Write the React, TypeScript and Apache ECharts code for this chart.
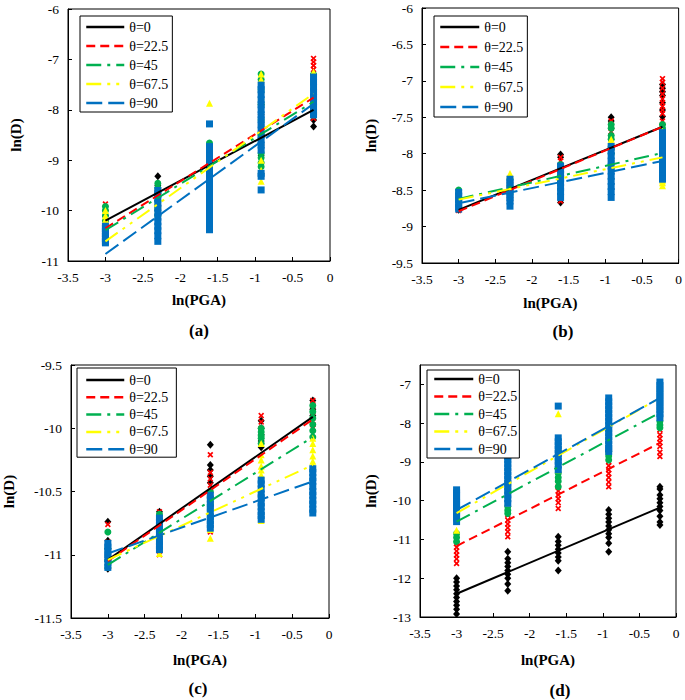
import React, { useEffect, useRef } from "react";
import * as echarts from "echarts";

// ---------- data ----------
const LN_PGA = [-3.0, -2.3, -1.61, -0.92, -0.22];
const FIT_X = [-3.0, -0.22];
const THETA_NAMES = ["θ=0", "θ=22.5", "θ=45", "θ=67.5", "θ=90"];
const PANEL_TAGS = ["(a)", "(b)", "(c)", "(d)"];
const X_NAME = "ln(PGA)";
const Y_NAME = "ln(D)";

// Panel (a)
const A_T0 = [
  [-10.0, -10.1, -10.2, -10.3, -10.4, -10.5],
  [-9.32, -9.5, -9.6, -9.7, -9.8, -9.9, -10.0],
  [-8.8, -8.9, -9.0, -9.1, -9.2, -9.3, -9.4],
  [-7.9, -8.1, -8.3, -8.5, -8.7, -8.9],
  [-7.5, -7.7, -7.9, -8.0, -8.1, -8.2, -8.33],
];
const A_T22 = [
  [-9.87, -9.95, -10.05, -10.15, -10.3, -10.45],
  [-9.56, -9.65, -9.75, -9.85, -9.95, -10.1],
  [-8.8, -8.95, -9.1, -9.25, -9.4, -9.6],
  [-7.6, -7.8, -8.0, -8.3, -8.6, -8.9, -9.1],
  [-6.98, -7.05, -7.12, -7.2, -7.4, -7.7, -8.0, -8.17],
];
const A_T45 = [
  [-9.92, -10.0, -10.1, -10.2, -10.3, -10.38],
  [-9.46, -9.55, -9.65, -9.8, -9.95, -10.1],
  [-8.66, -8.72, -8.8, -9.0, -9.2, -9.4, -9.6],
  [-7.29, -7.4, -7.6, -7.9, -8.2, -8.5, -8.86, -8.95, -9.05, -9.13],
  [-7.3, -7.45, -7.6, -7.8, -7.95, -8.1],
];
const A_T67 = [
  [-10.0, -10.1, -10.18, -10.3, -10.45, -10.6],
  [-9.8, -9.85, -9.9, -9.95, -10.0, -10.05],
  [-7.87, -9.0, -9.2, -9.4, -9.5, -9.6, -9.7, -9.8],
  [-7.29, -7.4, -7.6, -7.74, -7.8, -9.0, -9.2, -9.42],
  [-7.25, -7.3, -7.5, -7.7, -7.9, -8.05],
];
const A_T90 = [
  [-10.31, -10.36, -10.41, -10.46, -10.51, -10.56, -10.61, -10.64],
  [-9.6, -9.68, -9.77, -9.86, -9.95, -10.04, -10.13, -10.22, -10.31, -10.4, -10.5, -10.61],
  [-8.28, -8.73, -8.82, -8.91, -9.0, -9.1, -9.2, -9.3, -9.4, -9.5, -9.6, -9.7, -9.8, -9.9, -10.0, -10.1, -10.2, -10.3, -10.38],
  [-7.51, -7.6, -7.7, -7.8, -7.9, -8.0, -8.1, -8.2, -8.3, -8.4, -8.5, -8.6, -8.7, -8.8, -9.26, -9.32, -9.59],
  [-7.35, -7.45, -7.55, -7.65, -7.75, -7.85, -7.95, -8.05, -8.1],
];
const A_FIT_L = [-10.2, -10.35, -10.39, -10.61, -10.86];
const A_FIT_R = [-8.0, -7.76, -7.84, -7.68, -7.88];

// Panel (b)
const B_T0 = [
  [-8.6, -8.65, -8.7, -8.77],
  [-8.4, -8.5, -8.6, -8.65],
  [-8.01, -8.05, -8.2, -8.4, -8.55, -8.67],
  [-7.5, -7.55, -7.65, -7.8, -7.95, -8.1],
  [-7.05, -7.1, -7.15, -7.2, -7.3, -7.4, -7.49, -7.6],
];
const B_T22 = [
  [-8.6, -8.7, -8.78],
  [-8.45, -8.55, -8.65],
  [-8.05, -8.1, -8.3, -8.5, -8.65],
  [-7.55, -7.6, -7.65, -7.7, -7.75, -7.8],
  [-6.97, -7.02, -7.1, -7.18, -7.25, -7.3, -7.35, -7.4, -7.45, -7.55, -7.62],
];
const B_T45 = [
  [-8.5, -8.55, -8.6, -8.65],
  [-8.35, -8.45, -8.55],
  [-8.15, -8.2, -8.3, -8.4],
  [-7.6, -7.65, -7.75, -7.8, -7.9, -8.0],
  [-7.6, -7.65, -7.7, -7.8, -7.9],
];
const B_T67 = [
  [-8.55, -8.6, -8.65],
  [-8.27, -8.3, -8.4],
  [-8.2, -8.3, -8.4],
  [-7.8, -7.85, -7.9, -8.1, -8.3],
  [-7.69, -7.75, -8.37, -8.4, -8.44],
];
const B_T90 = [
  [-8.53, -8.58, -8.63, -8.68, -8.73, -8.76],
  [-8.35, -8.4, -8.45, -8.5, -8.55, -8.6, -8.65, -8.72],
  [-8.17, -8.22, -8.28, -8.34, -8.4, -8.46, -8.52, -8.6],
  [-7.9, -7.96, -8.03, -8.1, -8.17, -8.24, -8.31, -8.38, -8.45, -8.52, -8.6],
  [-7.71, -7.77, -7.84, -7.9, -7.97, -8.04, -8.1, -8.17, -8.23, -8.3, -8.35],
];
const B_FIT_L = [-8.77, -8.79, -8.62, -8.63, -8.68];
const B_FIT_R = [-7.63, -7.63, -7.99, -8.05, -8.1];

// Panel (c)
const C_T0 = [
  [-10.74, -10.89, -10.95, -11.0, -11.05, -11.11],
  [-10.66, -10.75, -10.85, -10.9],
  [-10.13, -10.29, -10.33, -10.38, -10.43],
  [-9.94, -10.0, -10.05, -10.1, -10.15],
  [-9.78, -9.85, -9.9],
];
const C_T22 = [
  [-10.76, -10.9, -11.0, -11.08],
  [-10.66, -10.8, -10.9, -11.0],
  [-10.21, -10.35, -10.4, -10.45, -10.82],
  [-9.9, -9.95, -10.0, -10.05],
  [-9.78, -9.82, -9.87, -9.92, -9.97, -10.0],
];
const C_T45 = [
  [-10.82, -10.95, -11.05, -11.1],
  [-10.68, -10.75, -10.85],
  [-10.5, -10.55, -10.6, -10.7],
  [-10.0, -10.03, -10.06, -10.08, -10.12],
  [-9.82, -9.87, -9.92, -9.97, -10.02, -10.07],
];
const C_T67 = [
  [-10.95, -11.0, -11.05],
  [-10.95, -10.99],
  [-10.6, -10.7, -10.8, -10.87],
  [-10.12, -10.21, -10.25, -10.3, -10.33, -10.37, -10.73],
  [-10.08, -10.12, -10.17, -10.22, -10.26, -10.29, -10.63],
];
const C_T90 = [
  [-10.91, -10.94, -10.97, -11.0, -11.03, -11.06, -11.1],
  [-10.71, -10.74, -10.77, -10.8, -10.83, -10.86, -10.9, -10.93, -10.96],
  [-10.53, -10.56, -10.6, -10.63, -10.66, -10.7, -10.73, -10.76, -10.79],
  [-10.41, -10.44, -10.48, -10.52, -10.55, -10.59, -10.62, -10.66, -10.69, -10.72],
  [-10.32, -10.35, -10.39, -10.42, -10.46, -10.5, -10.53, -10.57, -10.6, -10.64, -10.67],
];
const C_FIT_L = [-11.04, -11.05, -11.08, -11.04, -10.99];
const C_FIT_R = [-9.91, -9.93, -10.07, -10.29, -10.42];

// Panel (d)
const D_T0 = [
  [-12.0, -12.1, -12.2, -12.3, -12.4, -12.5, -12.6, -12.7, -12.8, -12.92],
  [-11.32, -11.5, -11.6, -11.7, -11.8, -11.9, -12.0, -12.15, -12.32],
  [-10.93, -11.05, -11.15, -11.25, -11.35, -11.45, -11.55, -11.8],
  [-10.24, -10.35, -10.45, -10.55, -10.65, -10.75, -10.85, -10.95, -11.1, -11.32],
  [-9.64, -9.7, -9.85, -9.95, -10.05, -10.15, -10.25, -10.4, -10.55, -10.63],
];
const D_T22 = [
  [-11.1, -11.2, -11.3, -11.4, -11.5, -11.62],
  [-10.37, -10.5, -10.6, -10.7, -10.8, -10.93],
  [-9.64, -9.75, -9.85, -9.95, -10.05, -10.2],
  [-8.99, -9.1, -9.2, -9.3, -9.4, -9.52, -9.64],
  [-8.17, -8.3, -8.4, -8.5, -8.6, -8.75, -8.86],
];
const D_T45 = [
  [-10.85, -10.95, -11.06],
  [-10.15, -10.25, -10.33],
  [-9.29, -9.4, -9.5, -9.64],
  [-8.73, -8.85, -8.95],
  [-7.95, -8.05, -8.12],
];
const D_T67 = [
  [-10.33, -10.76],
  [-9.1, -9.7, -10.07],
  [-7.76, -8.6, -9.2],
  [-7.6, -8.0, -8.4, -8.7],
  [-7.1, -7.6, -7.8],
];
const D_T90 = [
  [-9.72, -9.8, -9.88, -9.96, -10.04, -10.12, -10.2, -10.28, -10.36, -10.45, -10.54],
  [-8.86, -8.95, -9.05, -9.15, -9.25, -9.35, -9.45, -9.55, -9.65, -9.75, -9.85, -9.95, -10.07],
  [-7.56, -8.38, -8.48, -8.58, -8.68, -8.78, -8.88, -8.98, -9.08, -9.2],
  [-7.35, -7.45, -7.55, -7.65, -7.75, -7.85, -7.95, -8.05, -8.15, -8.25, -8.35, -8.45, -8.55, -8.65, -8.73],
  [-6.94, -7.03, -7.12, -7.21, -7.3, -7.39, -7.48, -7.57, -7.66, -7.76, -7.86],
];
const D_FIT_L = [-12.4, -11.17, -10.54, -10.32, -10.24];
const D_FIT_R = [-10.18, -8.51, -7.73, -7.35, -7.35];

const Y_RANGES = [
  { min: -11, max: -6, interval: 1 },
  { min: -9.5, max: -6, interval: 0.5 },
  { min: -11.5, max: -9.5, interval: 0.5 },
  { min: -13, max: -6.5, interval: 1 },
];

// ---------- styling / layout ----------
const FONT = "Liberation Serif";
const COLORS = ["#000000", "#ff0000", "#00b050", "#ffff00", "#0070c0"];
const DASHES: any[] = ["solid", [9, 5], [15, 6, 3, 6], [15, 6, 3, 6, 3, 6], [16, 6]];
const X_SYMBOL = "path://M0,2L2,0L5,3L8,0L10,2L7,5L10,8L8,10L5,7L2,10L0,8L3,5Z";
const SYMBOLS = ["diamond", X_SYMBOL, "circle", "triangle", "rect"];
const SYMBOL_SIZES: any[] = [[7, 8], 6, 7, 7, 7];

const LAYOUT = [
  {
    grid: { left: 68, top: 9, width: 262, height: 252 },
    yGap: 45, xGap: 31,
    legend: { left: 80, top: 16, itemGap: 5, itemWidth: 38, padding: [4, 4, 2, 5] },
    tag: [199, 330],
  },
  {
    grid: { left: 422, top: 8, width: 258, height: 255 },
    yGap: 44, xGap: 32,
    legend: { left: 434, top: 16, itemGap: 6, itemWidth: 39, padding: [4, 4, 3, 5] },
    tag: [563, 331],
  },
  {
    grid: { left: 71, top: 365, width: 258, height: 253 },
    yGap: 55, xGap: 34,
    legend: { left: 77, top: 368, itemGap: 3.3, itemWidth: 38, padding: [5, 8, 1, 8] },
    tag: [198, 688],
  },
  {
    grid: { left: 420, top: 365, width: 256, height: 252 },
    yGap: 42, xGap: 35,
    legend: { left: 427, top: 370, itemGap: 3.5, itemWidth: 39, padding: [2, 2, 2, 6] },
    tag: [560, 690],
  },
];

const PANELS = [
  { pts: [A_T0, A_T22, A_T45, A_T67, A_T90], fitL: A_FIT_L, fitR: A_FIT_R },
  { pts: [B_T0, B_T22, B_T45, B_T67, B_T90], fitL: B_FIT_L, fitR: B_FIT_R },
  { pts: [C_T0, C_T22, C_T45, C_T67, C_T90], fitL: C_FIT_L, fitR: C_FIT_R },
  { pts: [D_T0, D_T22, D_T45, D_T67, D_T90], fitL: D_FIT_L, fitR: D_FIT_R },
];

function buildOption() {
  const grid: any[] = [];
  const xAxis: any[] = [];
  const yAxis: any[] = [];
  const legend: any[] = [];
  const series: any[] = [];
  const graphic: any[] = [];

  PANELS.forEach((p, pi) => {
    const L = LAYOUT[pi];
    grid.push({ ...L.grid, show: true, borderColor: "#000", borderWidth: 1, containLabel: false });
    const axisCommon = {
      type: "value",
      gridIndex: pi,
      splitLine: { show: false },
      axisLine: { show: true, onZero: false, lineStyle: { color: "#000", width: 1 } },
      axisTick: { show: true, inside: true, length: 4, lineStyle: { color: "#000" } },
      nameLocation: "middle",
      nameTextStyle: { fontFamily: FONT, fontWeight: "bold", fontSize: 15, color: "#000" },
    };
    xAxis.push({
      ...axisCommon,
      min: -3.5,
      max: 0,
      interval: 0.5,
      name: X_NAME,
      nameGap: L.xGap,
      axisLabel: { color: "#000", fontFamily: FONT, fontSize: 13.5, margin: 9 },
    });
    const yr = Y_RANGES[pi];
    yAxis.push({
      ...axisCommon,
      min: yr.min,
      max: yr.max,
      interval: yr.interval,
      name: Y_NAME,
      nameRotate: 90,
      nameGap: L.yGap,
      axisLabel: {
        color: "#000",
        fontFamily: FONT,
        fontSize: 13.5,
        margin: 9,
        showMaxLabel: yr.max % yr.interval === 0,
      },
    });

    const names = THETA_NAMES.map((n) => `${pi}|${n}`);
    legend.push({
      orient: "vertical",
      left: L.legend.left,
      top: L.legend.top,
      itemWidth: L.legend.itemWidth,
      itemHeight: 14,
      itemGap: L.legend.itemGap,
      padding: L.legend.padding,
      backgroundColor: "#fff",
      borderColor: "#000",
      borderWidth: 1,
      borderRadius: 0,
      selectedMode: false,
      z: 20,
      data: names,
      formatter: (n: string) => n.split("|")[1],
      textStyle: { fontFamily: FONT, fontSize: 14, color: "#000" },
      itemStyle: { opacity: 0 },
      lineStyle: { width: 2.5 },
    });

    // scatter points
    p.pts.forEach((cols, si) => {
      const data: number[][] = [];
      cols.forEach((col, ci) => col.forEach((v) => data.push([LN_PGA[ci], v])));
      series.push({
        type: "scatter",
        name: `${pi}|pts|${si}`,
        xAxisIndex: pi,
        yAxisIndex: pi,
        symbol: SYMBOLS[si],
        symbolSize: SYMBOL_SIZES[si],
        itemStyle: { color: COLORS[si], opacity: 1 },
        data,
        z: 2,
        silent: true,
      });
    });
    // fitted lines
    THETA_NAMES.forEach((_, si) => {
      series.push({
        type: "line",
        name: names[si],
        xAxisIndex: pi,
        yAxisIndex: pi,
        symbol: "none",
        showSymbol: false,
        data: [
          [FIT_X[0], p.fitL[si]],
          [FIT_X[1], p.fitR[si]],
        ],
        lineStyle: { color: COLORS[si], width: 2, type: DASHES[si] },
        itemStyle: { color: COLORS[si] },
        z: 5,
        silent: true,
      });
    });

    graphic.push({
      type: "text",
      x: L.tag[0],
      y: L.tag[1],
      style: {
        text: PANEL_TAGS[pi],
        font: `bold 17px ${FONT}`,
        fill: "#000",
        align: "center",
        verticalAlign: "middle",
      },
    });
  });

  return {
    animation: false,
    backgroundColor: "#fff",
    grid,
    xAxis,
    yAxis,
    legend,
    series,
    graphic,
  };
}

export default function App() {
  const ref = useRef<HTMLDivElement>(null);
  useEffect(() => {
    if (!ref.current) return;
    const chart = echarts.init(ref.current, null, { renderer: "svg" });
    chart.setOption(buildOption() as any);
    return () => chart.dispose();
  }, []);
  return (
    <div
      ref={ref}
      style={{ position: "absolute", left: 0, top: 0, width: 685, height: 700, background: "#fff" }}
    />
  );
}
